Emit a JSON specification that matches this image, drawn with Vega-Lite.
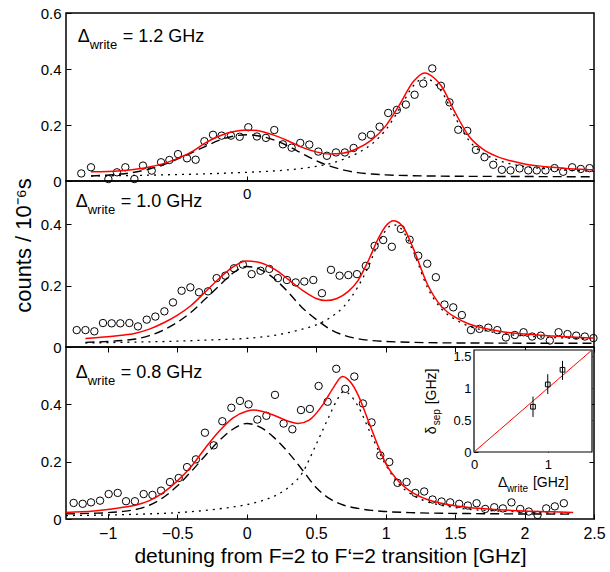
{
"$schema": "https://vega.github.io/schema/vega-lite/v6.json",
"padding": {"left": 11, "top": 5, "right": 0, "bottom": 0},
"bounds": "flush",
"spacing": 0,
"config": {
 "view": {"stroke": "#000", "strokeWidth": 1.5},
 "axis": {"domain": false, "grid": false, "tickColor": "#000", "tickSize": -5, "tickWidth": 1, "labelColor": "#000", "labelFont": "Liberation Sans", "labelFontSize": 15, "labelFlush": false, "labelOverlap": false, "titleColor": "#000", "titleFont": "Liberation Sans", "titleFontSize": 21, "titleFontWeight": "normal", "zindex": 1},
 "text": {"font": "Liberation Sans", "color": "#000"}
},
"datasets": {
 "ann": [
  {"p": "top", "x": -1.216, "y": 0.496, "lab": "= 1.2 GHz"},
  {"p": "mid", "x": -1.23, "y": 0.455, "lab": "= 1.0 GHz"},
  {"p": "bot", "x": -1.23, "y": 0.492, "lab": "= 0.8  GHz"}
 ],
 "top_pts": [{"x":-1.19,"y":0.027},{"x":-1.12,"y":0.049},{"x":-0.995,"y":0.007},{"x":-0.933,"y":0.031},{"x":-0.873,"y":0.049},{"x":-0.808,"y":0.007},{"x":-0.746,"y":0.055},{"x":-0.683,"y":0.037},{"x":-0.616,"y":0.067},{"x":-0.556,"y":0.075},{"x":-0.494,"y":0.096},{"x":-0.429,"y":0.081},{"x":-0.367,"y":0.076},{"x":-0.304,"y":0.142},{"x":-0.242,"y":0.165},{"x":-0.18,"y":0.162},{"x":-0.113,"y":0.162},{"x":-0.05,"y":0.158},{"x":0.012,"y":0.192},{"x":0.074,"y":0.159},{"x":0.139,"y":0.154},{"x":0.199,"y":0.182},{"x":0.261,"y":0.131},{"x":0.324,"y":0.119},{"x":0.386,"y":0.136},{"x":0.451,"y":0.13},{"x":0.516,"y":0.105},{"x":0.578,"y":0.09},{"x":0.643,"y":0.102},{"x":0.707,"y":0.102},{"x":0.77,"y":0.118},{"x":0.832,"y":0.159},{"x":0.894,"y":0.165},{"x":0.957,"y":0.194},{"x":1.019,"y":0.243},{"x":1.081,"y":0.254},{"x":1.146,"y":0.273},{"x":1.209,"y":0.308},{"x":1.271,"y":0.348},{"x":1.336,"y":0.402},{"x":1.398,"y":0.34},{"x":1.46,"y":0.281},{"x":1.523,"y":0.183},{"x":1.588,"y":0.179},{"x":1.65,"y":0.111},{"x":1.712,"y":0.085},{"x":1.775,"y":0.058},{"x":1.837,"y":0.04},{"x":1.899,"y":0.038},{"x":1.964,"y":0.045},{"x":2.027,"y":0.038},{"x":2.088,"y":0.038},{"x":2.151,"y":0.038},{"x":2.216,"y":0.046},{"x":2.278,"y":0.033},{"x":2.343,"y":0.049},{"x":2.405,"y":0.043},{"x":2.468,"y":0.046}],
 "top_fit": [{"x":-1.12,"y":0.033},{"x":-1.0,"y":0.034},{"x":-0.9,"y":0.037},{"x":-0.8,"y":0.042},{"x":-0.7,"y":0.05},{"x":-0.6,"y":0.062},{"x":-0.5,"y":0.08},{"x":-0.4,"y":0.103},{"x":-0.3,"y":0.135},{"x":-0.2,"y":0.16},{"x":-0.1,"y":0.176},{"x":0.0,"y":0.182},{"x":0.1,"y":0.178},{"x":0.2,"y":0.163},{"x":0.3,"y":0.143},{"x":0.4,"y":0.12},{"x":0.5,"y":0.104},{"x":0.6,"y":0.096},{"x":0.7,"y":0.1},{"x":0.8,"y":0.117},{"x":0.9,"y":0.147},{"x":1.0,"y":0.196},{"x":1.1,"y":0.272},{"x":1.2,"y":0.355},{"x":1.28,"y":0.386},{"x":1.35,"y":0.368},{"x":1.4,"y":0.34},{"x":1.5,"y":0.245},{"x":1.6,"y":0.16},{"x":1.7,"y":0.114},{"x":1.8,"y":0.088},{"x":1.9,"y":0.072},{"x":2.0,"y":0.061},{"x":2.1,"y":0.054},{"x":2.2,"y":0.049},{"x":2.3,"y":0.045},{"x":2.4,"y":0.042},{"x":2.5,"y":0.04}],
 "top_c1": [{"x":-1.12,"y":0.018},{"x":-1.0,"y":0.021},{"x":-0.9,"y":0.025},{"x":-0.8,"y":0.032},{"x":-0.7,"y":0.043},{"x":-0.6,"y":0.058},{"x":-0.5,"y":0.078},{"x":-0.4,"y":0.1},{"x":-0.3,"y":0.123},{"x":-0.2,"y":0.145},{"x":-0.1,"y":0.16},{"x":0,"y":0.165},{"x":0.1,"y":0.16},{"x":0.2,"y":0.146},{"x":0.3,"y":0.124},{"x":0.4,"y":0.098},{"x":0.5,"y":0.073},{"x":0.6,"y":0.053},{"x":0.7,"y":0.039},{"x":0.8,"y":0.03},{"x":0.9,"y":0.025},{"x":1.0,"y":0.022},{"x":1.2,"y":0.019},{"x":1.5,"y":0.017},{"x":2.0,"y":0.016},{"x":2.5,"y":0.015}],
 "top_c2": [{"x":-1.12,"y":0.018},{"x":-0.8,"y":0.02},{"x":-0.5,"y":0.023},{"x":-0.2,"y":0.027},{"x":0,"y":0.031},{"x":0.2,"y":0.036},{"x":0.4,"y":0.045},{"x":0.5,"y":0.052},{"x":0.6,"y":0.062},{"x":0.7,"y":0.078},{"x":0.8,"y":0.1},{"x":0.9,"y":0.132},{"x":1.0,"y":0.182},{"x":1.1,"y":0.258},{"x":1.2,"y":0.34},{"x":1.28,"y":0.368},{"x":1.35,"y":0.35},{"x":1.4,"y":0.322},{"x":1.5,"y":0.228},{"x":1.6,"y":0.145},{"x":1.7,"y":0.1},{"x":1.8,"y":0.076},{"x":1.9,"y":0.061},{"x":2.0,"y":0.052},{"x":2.2,"y":0.042},{"x":2.5,"y":0.035}],
 "mid_pts": [{"x":-1.223,"y":0.055},{"x":-1.16,"y":0.055},{"x":-1.096,"y":0.051},{"x":-1.034,"y":0.078},{"x":-0.971,"y":0.077},{"x":-0.909,"y":0.077},{"x":-0.844,"y":0.078},{"x":-0.782,"y":0.067},{"x":-0.719,"y":0.089},{"x":-0.657,"y":0.099},{"x":-0.592,"y":0.116},{"x":-0.53,"y":0.145},{"x":-0.468,"y":0.183},{"x":-0.405,"y":0.194},{"x":-0.343,"y":0.178},{"x":-0.278,"y":0.181},{"x":-0.216,"y":0.224},{"x":-0.153,"y":0.232},{"x":-0.091,"y":0.256},{"x":-0.027,"y":0.268},{"x":0.036,"y":0.237},{"x":0.1,"y":0.248},{"x":0.163,"y":0.254},{"x":0.225,"y":0.224},{"x":0.29,"y":0.218},{"x":0.353,"y":0.21},{"x":0.415,"y":0.213},{"x":0.48,"y":0.218},{"x":0.542,"y":0.175},{"x":0.607,"y":0.251},{"x":0.669,"y":0.232},{"x":0.732,"y":0.234},{"x":0.794,"y":0.237},{"x":0.858,"y":0.264},{"x":0.921,"y":0.329},{"x":0.983,"y":0.348},{"x":1.045,"y":0.326},{"x":1.11,"y":0.384},{"x":1.173,"y":0.349},{"x":1.235,"y":0.297},{"x":1.3,"y":0.271},{"x":1.362,"y":0.227},{"x":1.424,"y":0.138},{"x":1.487,"y":0.129},{"x":1.549,"y":0.104},{"x":1.614,"y":0.055},{"x":1.676,"y":0.059},{"x":1.739,"y":0.063},{"x":1.804,"y":0.055},{"x":1.866,"y":0.031},{"x":1.93,"y":0.039},{"x":1.993,"y":0.048},{"x":2.055,"y":0.034},{"x":2.117,"y":0.037},{"x":2.182,"y":0.021},{"x":2.245,"y":0.048},{"x":2.309,"y":0.042},{"x":2.372,"y":0.037},{"x":2.434,"y":0.034},{"x":2.496,"y":0.029}],
 "mid_fit": [{"x":-1.16,"y":0.028},{"x":-1.0,"y":0.033},{"x":-0.9,"y":0.038},{"x":-0.8,"y":0.045},{"x":-0.7,"y":0.058},{"x":-0.6,"y":0.078},{"x":-0.5,"y":0.103},{"x":-0.4,"y":0.135},{"x":-0.3,"y":0.178},{"x":-0.2,"y":0.222},{"x":-0.1,"y":0.26},{"x":0,"y":0.28},{"x":0.1,"y":0.274},{"x":0.2,"y":0.253},{"x":0.3,"y":0.22},{"x":0.4,"y":0.185},{"x":0.5,"y":0.158},{"x":0.57,"y":0.151},{"x":0.65,"y":0.158},{"x":0.73,"y":0.18},{"x":0.8,"y":0.215},{"x":0.87,"y":0.275},{"x":0.95,"y":0.355},{"x":1.0,"y":0.393},{"x":1.06,"y":0.411},{"x":1.13,"y":0.388},{"x":1.2,"y":0.32},{"x":1.3,"y":0.205},{"x":1.4,"y":0.133},{"x":1.5,"y":0.097},{"x":1.6,"y":0.075},{"x":1.7,"y":0.062},{"x":1.8,"y":0.053},{"x":1.9,"y":0.046},{"x":2.0,"y":0.042},{"x":2.2,"y":0.036},{"x":2.4,"y":0.031},{"x":2.5,"y":0.029}],
 "mid_c1": [{"x":-1.16,"y":0.015},{"x":-1.0,"y":0.018},{"x":-0.9,"y":0.021},{"x":-0.8,"y":0.026},{"x":-0.7,"y":0.037},{"x":-0.6,"y":0.055},{"x":-0.5,"y":0.08},{"x":-0.4,"y":0.113},{"x":-0.3,"y":0.155},{"x":-0.2,"y":0.198},{"x":-0.1,"y":0.24},{"x":0,"y":0.262},{"x":0.1,"y":0.252},{"x":0.2,"y":0.222},{"x":0.3,"y":0.178},{"x":0.4,"y":0.128},{"x":0.5,"y":0.09},{"x":0.6,"y":0.058},{"x":0.7,"y":0.038},{"x":0.8,"y":0.027},{"x":0.9,"y":0.021},{"x":1.0,"y":0.018},{"x":1.2,"y":0.015},{"x":1.6,"y":0.013},{"x":2.5,"y":0.012}],
 "mid_c2": [{"x":-1.16,"y":0.013},{"x":-0.8,"y":0.016},{"x":-0.5,"y":0.019},{"x":-0.2,"y":0.024},{"x":0,"y":0.028},{"x":0.2,"y":0.038},{"x":0.4,"y":0.058},{"x":0.5,"y":0.072},{"x":0.6,"y":0.095},{"x":0.7,"y":0.132},{"x":0.8,"y":0.195},{"x":0.87,"y":0.255},{"x":0.95,"y":0.34},{"x":1.0,"y":0.378},{"x":1.05,"y":0.398},{"x":1.1,"y":0.39},{"x":1.2,"y":0.31},{"x":1.3,"y":0.195},{"x":1.4,"y":0.125},{"x":1.5,"y":0.09},{"x":1.6,"y":0.068},{"x":1.7,"y":0.055},{"x":1.8,"y":0.046},{"x":2.0,"y":0.036},{"x":2.2,"y":0.031},{"x":2.5,"y":0.027}],
 "bot_pts": [{"x":-1.245,"y":0.056},{"x":-1.18,"y":0.053},{"x":-1.12,"y":0.058},{"x":-1.055,"y":0.064},{"x":-0.993,"y":0.087},{"x":-0.928,"y":0.091},{"x":-0.868,"y":0.062},{"x":-0.804,"y":0.062},{"x":-0.741,"y":0.087},{"x":-0.678,"y":0.084},{"x":-0.616,"y":0.099},{"x":-0.552,"y":0.129},{"x":-0.489,"y":0.143},{"x":-0.429,"y":0.181},{"x":-0.365,"y":0.208},{"x":-0.3,"y":0.301},{"x":-0.237,"y":0.257},{"x":-0.175,"y":0.341},{"x":-0.11,"y":0.388},{"x":-0.048,"y":0.412},{"x":0.014,"y":0.4},{"x":0.077,"y":0.347},{"x":0.142,"y":0.36},{"x":0.204,"y":0.433},{"x":0.266,"y":0.333},{"x":0.329,"y":0.313},{"x":0.391,"y":0.38},{"x":0.455,"y":0.384},{"x":0.518,"y":0.464},{"x":0.583,"y":0.409},{"x":0.645,"y":0.524},{"x":0.71,"y":0.454},{"x":0.775,"y":0.497},{"x":0.837,"y":0.403},{"x":0.899,"y":0.337},{"x":0.962,"y":0.222},{"x":1.027,"y":0.199},{"x":1.086,"y":0.126},{"x":1.151,"y":0.129},{"x":1.214,"y":0.091},{"x":1.278,"y":0.096},{"x":1.338,"y":0.068},{"x":1.403,"y":0.061},{"x":1.465,"y":0.058},{"x":1.53,"y":0.053},{"x":1.592,"y":0.047},{"x":1.655,"y":0.055},{"x":1.717,"y":0.035},{"x":1.782,"y":0.041},{"x":1.844,"y":0.037},{"x":1.906,"y":0.058},{"x":1.969,"y":0.035},{"x":2.031,"y":0.026},{"x":2.094,"y":0.014},{"x":2.156,"y":0.037},{"x":2.218,"y":0.044},{"x":2.283,"y":0.055}],
 "bot_fit": [{"x":-1.3,"y":0.023},{"x":-1.1,"y":0.028},{"x":-1.0,"y":0.033},{"x":-0.9,"y":0.04},{"x":-0.8,"y":0.048},{"x":-0.7,"y":0.064},{"x":-0.6,"y":0.092},{"x":-0.5,"y":0.132},{"x":-0.4,"y":0.182},{"x":-0.3,"y":0.246},{"x":-0.2,"y":0.305},{"x":-0.1,"y":0.352},{"x":0,"y":0.376},{"x":0.05,"y":0.38},{"x":0.1,"y":0.377},{"x":0.2,"y":0.361},{"x":0.3,"y":0.341},{"x":0.37,"y":0.333},{"x":0.45,"y":0.345},{"x":0.55,"y":0.4},{"x":0.62,"y":0.455},{"x":0.69,"y":0.497},{"x":0.75,"y":0.476},{"x":0.8,"y":0.435},{"x":0.87,"y":0.35},{"x":0.95,"y":0.25},{"x":1.0,"y":0.195},{"x":1.1,"y":0.128},{"x":1.2,"y":0.09},{"x":1.3,"y":0.068},{"x":1.4,"y":0.055},{"x":1.5,"y":0.046},{"x":1.6,"y":0.04},{"x":1.8,"y":0.033},{"x":2.0,"y":0.028},{"x":2.2,"y":0.025},{"x":2.35,"y":0.023}],
 "bot_c1": [{"x":-1.3,"y":0.018},{"x":-1.1,"y":0.02},{"x":-1.0,"y":0.022},{"x":-0.9,"y":0.026},{"x":-0.8,"y":0.033},{"x":-0.7,"y":0.048},{"x":-0.6,"y":0.075},{"x":-0.5,"y":0.115},{"x":-0.4,"y":0.165},{"x":-0.3,"y":0.22},{"x":-0.2,"y":0.272},{"x":-0.1,"y":0.313},{"x":0,"y":0.333},{"x":0.1,"y":0.32},{"x":0.2,"y":0.283},{"x":0.3,"y":0.232},{"x":0.4,"y":0.172},{"x":0.5,"y":0.11},{"x":0.6,"y":0.07},{"x":0.7,"y":0.048},{"x":0.8,"y":0.037},{"x":0.9,"y":0.03},{"x":1.0,"y":0.026},{"x":1.2,"y":0.022},{"x":1.6,"y":0.019},{"x":2.35,"y":0.017}],
 "bot_c2": [{"x":-1.3,"y":0.012},{"x":-1.0,"y":0.014},{"x":-0.7,"y":0.018},{"x":-0.5,"y":0.022},{"x":-0.3,"y":0.03},{"x":-0.1,"y":0.042},{"x":0,"y":0.05},{"x":0.1,"y":0.062},{"x":0.2,"y":0.08},{"x":0.3,"y":0.11},{"x":0.4,"y":0.16},{"x":0.5,"y":0.26},{"x":0.6,"y":0.365},{"x":0.65,"y":0.415},{"x":0.7,"y":0.445},{"x":0.75,"y":0.43},{"x":0.8,"y":0.395},{"x":0.9,"y":0.29},{"x":1.0,"y":0.19},{"x":1.1,"y":0.12},{"x":1.2,"y":0.082},{"x":1.3,"y":0.06},{"x":1.4,"y":0.048},{"x":1.5,"y":0.04},{"x":1.6,"y":0.034},{"x":1.8,"y":0.028},{"x":2.0,"y":0.024},{"x":2.2,"y":0.021},{"x":2.35,"y":0.02}],
 "ins_box": [{"x0": 0, "x1": 1.6, "y0": 0, "y1": 1.6}],
 "ins_line": [{"x": 0, "y": 0}, {"x": 1.6, "y": 1.6}],
 "ins_pts": [{"d": 0.8, "s": 0.71, "lo": 0.55, "hi": 0.87}, {"d": 1.0, "s": 1.06, "lo": 0.91, "hi": 1.22}, {"d": 1.2, "s": 1.29, "lo": 1.13, "hi": 1.43}],
 "ins_xt": [{"x": 0.324, "y": -0.555}],
 "ins_yt": [{"x": -0.514, "y": 0.278}]
},
"vconcat": [
 {
  "width": 528, "height": 168,
  "resolve": {"axis": {"x": "independent", "y": "independent"}},
  "layer": [
   {"data": {"name": "top_pts"}, "mark": {"type": "point", "shape": "circle", "filled": false, "stroke": "#000", "strokeWidth": 1, "size": 55, "opacity": 1},
    "encoding": {"x": {"field": "x", "type": "quantitative", "scale": {"domain": [-1.3, 2.5], "nice": false, "zero": false}, "axis": {"orient": "bottom", "values": [0], "format": "~g", "labelPadding": 10, "title": null}},
                 "y": {"field": "y", "type": "quantitative", "scale": {"domain": [0, 0.6], "nice": false}, "axis": {"orient": "left", "values": [0, 0.2, 0.4, 0.6], "format": "~g", "labelPadding": 10, "title": null}}}},
   {"data": {"name": "top_c1"}, "mark": {"type": "line", "color": "#000", "strokeWidth": 1.4, "strokeDash": [9, 5], "interpolate": "monotone"},
    "encoding": {"x": {"field": "x", "type": "quantitative", "axis": null}, "y": {"field": "y", "type": "quantitative", "axis": {"orient": "right", "values": [0.2, 0.4], "labels": false, "title": null}}}},
   {"data": {"name": "top_c2"}, "mark": {"type": "line", "color": "#000", "strokeWidth": 1.3, "strokeDash": [2, 5], "interpolate": "monotone"},
    "encoding": {"x": {"field": "x", "type": "quantitative", "axis": null}, "y": {"field": "y", "type": "quantitative", "axis": null}}},
   {"data": {"name": "top_fit"}, "mark": {"type": "line", "color": "#ff0000", "strokeWidth": 1.5, "interpolate": "monotone"},
    "encoding": {"x": {"field": "x", "type": "quantitative", "axis": null}, "y": {"field": "y", "type": "quantitative", "axis": null}}},
   {"data": {"name": "ann"}, "transform": [{"filter": "datum.p === 'top'"}], "mark": {"type": "text", "align": "left", "baseline": "alphabetic", "fontSize": 18, "text": "Δ"},
    "encoding": {"x": {"field": "x", "type": "quantitative", "axis": null}, "y": {"field": "y", "type": "quantitative", "axis": null}}},
   {"data": {"name": "ann"}, "transform": [{"filter": "datum.p === 'top'"}], "mark": {"type": "text", "align": "left", "baseline": "alphabetic", "fontSize": 13, "dx": 12, "dy": 7, "text": "write"},
    "encoding": {"x": {"field": "x", "type": "quantitative", "axis": null}, "y": {"field": "y", "type": "quantitative", "axis": null}}},
   {"data": {"name": "ann"}, "transform": [{"filter": "datum.p === 'top'"}], "mark": {"type": "text", "align": "left", "baseline": "alphabetic", "fontSize": 18, "dx": 45},
    "encoding": {"x": {"field": "x", "type": "quantitative", "axis": null}, "y": {"field": "y", "type": "quantitative", "axis": null}, "text": {"field": "lab"}}}
  ]
 },
 {
  "width": 528, "height": 166,
  "resolve": {"axis": {"x": "independent", "y": "independent"}},
  "layer": [
   {"data": {"name": "mid_pts"}, "mark": {"type": "point", "shape": "circle", "filled": false, "stroke": "#000", "strokeWidth": 1, "size": 55, "opacity": 1},
    "encoding": {"x": {"field": "x", "type": "quantitative", "scale": {"domain": [-1.3, 2.5], "nice": false, "zero": false}, "axis": null},
                 "y": {"field": "y", "type": "quantitative", "scale": {"domain": [0, 0.54], "nice": false}, "axis": {"orient": "left", "values": [0, 0.2, 0.4], "format": "~g", "labelPadding": 10, "title": "counts / 10⁻⁶s", "titleFontSize": 22, "titleX": -36, "titleY": 64, "titleAngle": 270, "titleAlign": "center", "titleBaseline": "alphabetic"}}}},
   {"data": {"name": "mid_c1"}, "mark": {"type": "line", "color": "#000", "strokeWidth": 1.4, "strokeDash": [9, 5], "interpolate": "monotone"},
    "encoding": {"x": {"field": "x", "type": "quantitative", "axis": null}, "y": {"field": "y", "type": "quantitative", "axis": {"orient": "right", "values": [0.2, 0.4], "labels": false, "title": null}}}},
   {"data": {"name": "mid_c2"}, "mark": {"type": "line", "color": "#000", "strokeWidth": 1.3, "strokeDash": [2, 5], "interpolate": "monotone"},
    "encoding": {"x": {"field": "x", "type": "quantitative", "axis": null}, "y": {"field": "y", "type": "quantitative", "axis": null}}},
   {"data": {"name": "mid_fit"}, "mark": {"type": "line", "color": "#ff0000", "strokeWidth": 1.5, "interpolate": "monotone"},
    "encoding": {"x": {"field": "x", "type": "quantitative", "axis": null}, "y": {"field": "y", "type": "quantitative", "axis": null}}},
   {"data": {"name": "ann"}, "transform": [{"filter": "datum.p === 'mid'"}], "mark": {"type": "text", "align": "left", "baseline": "alphabetic", "fontSize": 18, "text": "Δ"},
    "encoding": {"x": {"field": "x", "type": "quantitative", "axis": null}, "y": {"field": "y", "type": "quantitative", "axis": null}}},
   {"data": {"name": "ann"}, "transform": [{"filter": "datum.p === 'mid'"}], "mark": {"type": "text", "align": "left", "baseline": "alphabetic", "fontSize": 13, "dx": 12, "dy": 7, "text": "write"},
    "encoding": {"x": {"field": "x", "type": "quantitative", "axis": null}, "y": {"field": "y", "type": "quantitative", "axis": null}}},
   {"data": {"name": "ann"}, "transform": [{"filter": "datum.p === 'mid'"}], "mark": {"type": "text", "align": "left", "baseline": "alphabetic", "fontSize": 18, "dx": 45},
    "encoding": {"x": {"field": "x", "type": "quantitative", "axis": null}, "y": {"field": "y", "type": "quantitative", "axis": null}, "text": {"field": "lab"}}}
  ]
 },
 {
  "width": 528, "height": 172,
  "resolve": {"scale": {"x": "independent", "y": "independent"}, "axis": {"x": "independent", "y": "independent"}},
  "layer": [
   {"data": {"name": "bot_pts"}, "mark": {"type": "point", "shape": "circle", "filled": false, "stroke": "#000", "strokeWidth": 1, "size": 55, "opacity": 1},
    "encoding": {"x": {"field": "x", "type": "quantitative", "scale": {"domain": [-1.3, 2.5], "nice": false, "zero": false}, "axis": null},
                 "y": {"field": "y", "type": "quantitative", "scale": {"domain": [0, 0.6], "nice": false}, "axis": null}}},
   {"data": {"name": "bot_c1"}, "mark": {"type": "line", "color": "#000", "strokeWidth": 1.4, "strokeDash": [9, 5], "interpolate": "monotone"},
    "encoding": {"x": {"field": "x", "type": "quantitative", "scale": {"domain": [-1.3, 2.5], "nice": false, "zero": false}, "axis": {"orient": "top", "values": [-1, -0.5, 0, 0.5, 1, 1.5, 2, 2.5], "labels": false, "title": null}},
                 "y": {"field": "y", "type": "quantitative", "scale": {"domain": [0, 0.6], "nice": false}, "axis": {"orient": "right", "values": [0.2, 0.4], "labels": false, "title": null, "zindex": 0}}}},
   {"data": {"name": "bot_c2"}, "mark": {"type": "line", "color": "#000", "strokeWidth": 1.3, "strokeDash": [2, 5], "interpolate": "monotone"},
    "encoding": {"x": {"field": "x", "type": "quantitative", "scale": {"domain": [-1.3, 2.5], "nice": false, "zero": false}, "axis": null},
                 "y": {"field": "y", "type": "quantitative", "scale": {"domain": [0, 0.6], "nice": false}, "axis": null}}},
   {"data": {"name": "bot_fit"}, "mark": {"type": "line", "color": "#ff0000", "strokeWidth": 1.5, "interpolate": "monotone"},
    "encoding": {"x": {"field": "x", "type": "quantitative", "scale": {"domain": [-1.3, 2.5], "nice": false, "zero": false}, "axis": {"orient": "bottom", "values": [-1, -0.5, 0, 0.5, 1, 1.5, 2, 2.5], "format": "~g", "labelFontSize": 16, "labelPadding": 11, "title": "detuning from F=2 to F‘=2 transition [GHz]", "titleY": 43, "titleBaseline": "alphabetic"}},
                 "y": {"field": "y", "type": "quantitative", "scale": {"domain": [0, 0.6], "nice": false}, "axis": {"orient": "left", "values": [0, 0.2, 0.4], "format": "~g", "labelPadding": 10, "title": null}}}},
   {"data": {"name": "ann"}, "transform": [{"filter": "datum.p === 'bot'"}], "mark": {"type": "text", "align": "left", "baseline": "alphabetic", "fontSize": 18, "text": "Δ"},
    "encoding": {"x": {"field": "x", "type": "quantitative", "scale": {"domain": [-1.3, 2.5], "nice": false, "zero": false}, "axis": null}, "y": {"field": "y", "type": "quantitative", "scale": {"domain": [0, 0.6], "nice": false}, "axis": null}}},
   {"data": {"name": "ann"}, "transform": [{"filter": "datum.p === 'bot'"}], "mark": {"type": "text", "align": "left", "baseline": "alphabetic", "fontSize": 13, "dx": 12, "dy": 7, "text": "write"},
    "encoding": {"x": {"field": "x", "type": "quantitative", "scale": {"domain": [-1.3, 2.5], "nice": false, "zero": false}, "axis": null}, "y": {"field": "y", "type": "quantitative", "scale": {"domain": [0, 0.6], "nice": false}, "axis": null}}},
   {"data": {"name": "ann"}, "transform": [{"filter": "datum.p === 'bot'"}], "mark": {"type": "text", "align": "left", "baseline": "alphabetic", "fontSize": 18, "dx": 45},
    "encoding": {"x": {"field": "x", "type": "quantitative", "scale": {"domain": [-1.3, 2.5], "nice": false, "zero": false}, "axis": null}, "y": {"field": "y", "type": "quantitative", "scale": {"domain": [0, 0.6], "nice": false}, "axis": null}, "text": {"field": "lab"}}},
   {"data": {"name": "ins_box"}, "mark": {"type": "rect", "fill": "#fff", "stroke": "#000", "strokeWidth": 1.2},
    "encoding": {"x": {"field": "x0", "type": "quantitative", "scale": {"domain": [0, 1.6], "range": [408, 526], "nice": false, "zero": false}, "axis": {"orient": "bottom", "offset": -67, "values": [0, 1], "format": "~g", "labelFontSize": 13, "tickSize": -4, "labelPadding": 10, "title": null}},
                 "x2": {"field": "x1"},
                 "y": {"field": "y0", "type": "quantitative", "scale": {"domain": [0, 1.6], "range": [105, 3], "nice": false, "zero": false}, "axis": {"orient": "left", "offset": -408, "values": [0, 0.5, 1, 1.5], "format": "~g", "labelFontSize": 13, "tickSize": -4, "labelPadding": 7, "title": null}},
                 "y2": {"field": "y1"}}},
   {"data": {"name": "ins_line"}, "mark": {"type": "line", "color": "#ff0000", "strokeWidth": 1},
    "encoding": {"x": {"field": "x", "type": "quantitative", "scale": {"domain": [0, 1.6], "range": [408, 526], "nice": false, "zero": false}, "axis": null},
                 "y": {"field": "y", "type": "quantitative", "scale": {"domain": [0, 1.6], "range": [105, 3], "nice": false, "zero": false}, "axis": {"orient": "right", "offset": -2, "values": [0.5, 1, 1.5], "labels": false, "tickSize": -4, "title": null}}}},
   {"data": {"name": "ins_pts"}, "mark": {"type": "rule", "color": "#000", "strokeWidth": 1},
    "encoding": {"x": {"field": "d", "type": "quantitative", "scale": {"domain": [0, 1.6], "range": [408, 526], "nice": false, "zero": false}, "axis": null},
                 "y": {"field": "lo", "type": "quantitative", "scale": {"domain": [0, 1.6], "range": [105, 3], "nice": false, "zero": false}, "axis": null},
                 "y2": {"field": "hi"}}},
   {"data": {"name": "ins_pts"}, "mark": {"type": "point", "shape": "square", "filled": false, "stroke": "#000", "strokeWidth": 1, "size": 22, "opacity": 1},
    "encoding": {"x": {"field": "d", "type": "quantitative", "scale": {"domain": [0, 1.6], "range": [408, 526], "nice": false, "zero": false}, "axis": null},
                 "y": {"field": "s", "type": "quantitative", "scale": {"domain": [0, 1.6], "range": [105, 3], "nice": false, "zero": false}, "axis": null}}},
   {"data": {"name": "ins_xt"}, "mark": {"type": "text", "align": "left", "baseline": "alphabetic", "fontSize": 14, "text": "Δ"},
    "encoding": {"x": {"field": "x", "type": "quantitative", "scale": {"domain": [0, 1.6], "range": [408, 526], "nice": false, "zero": false}, "axis": null},
                 "y": {"field": "y", "type": "quantitative", "scale": {"domain": [0, 1.6], "range": [105, 3], "nice": false, "zero": false}, "axis": null}}},
   {"data": {"name": "ins_xt"}, "mark": {"type": "text", "align": "left", "baseline": "alphabetic", "fontSize": 10, "dx": 9, "dy": 5, "text": "write"},
    "encoding": {"x": {"field": "x", "type": "quantitative", "scale": {"domain": [0, 1.6], "range": [408, 526], "nice": false, "zero": false}, "axis": null},
                 "y": {"field": "y", "type": "quantitative", "scale": {"domain": [0, 1.6], "range": [105, 3], "nice": false, "zero": false}, "axis": null}}},
   {"data": {"name": "ins_xt"}, "mark": {"type": "text", "align": "left", "baseline": "alphabetic", "fontSize": 14, "dx": 35, "text": "[GHz]"},
    "encoding": {"x": {"field": "x", "type": "quantitative", "scale": {"domain": [0, 1.6], "range": [408, 526], "nice": false, "zero": false}, "axis": null},
                 "y": {"field": "y", "type": "quantitative", "scale": {"domain": [0, 1.6], "range": [105, 3], "nice": false, "zero": false}, "axis": null}}},
   {"data": {"name": "ins_yt"}, "mark": {"type": "text", "align": "left", "baseline": "alphabetic", "fontSize": 14, "angle": 270, "text": "δ"},
    "encoding": {"x": {"field": "x", "type": "quantitative", "scale": {"domain": [0, 1.6], "range": [408, 526], "nice": false, "zero": false}, "axis": null},
                 "y": {"field": "y", "type": "quantitative", "scale": {"domain": [0, 1.6], "range": [105, 3], "nice": false, "zero": false}, "axis": null}}},
   {"data": {"name": "ins_yt"}, "mark": {"type": "text", "align": "left", "baseline": "alphabetic", "fontSize": 10, "angle": 270, "dx": 9, "dy": 4, "text": "sep"},
    "encoding": {"x": {"field": "x", "type": "quantitative", "scale": {"domain": [0, 1.6], "range": [408, 526], "nice": false, "zero": false}, "axis": null},
                 "y": {"field": "y", "type": "quantitative", "scale": {"domain": [0, 1.6], "range": [105, 3], "nice": false, "zero": false}, "axis": null}}},
   {"data": {"name": "ins_yt"}, "mark": {"type": "text", "align": "left", "baseline": "alphabetic", "fontSize": 14, "angle": 270, "dx": 30, "text": "[GHz]"},
    "encoding": {"x": {"field": "x", "type": "quantitative", "scale": {"domain": [0, 1.6], "range": [408, 526], "nice": false, "zero": false}, "axis": null},
                 "y": {"field": "y", "type": "quantitative", "scale": {"domain": [0, 1.6], "range": [105, 3], "nice": false, "zero": false}, "axis": null}}}
  ]
 }
]
}
